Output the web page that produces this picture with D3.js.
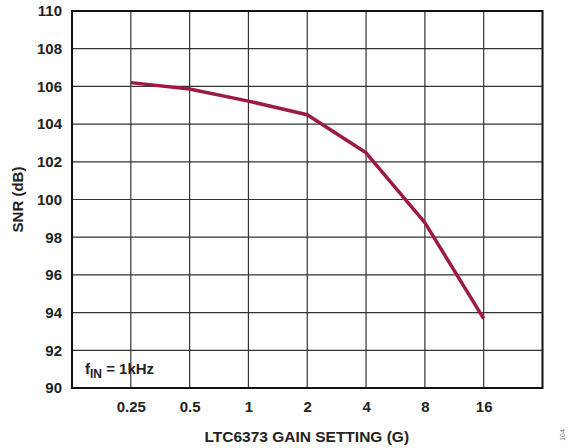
<!DOCTYPE html>
<html><head><meta charset="utf-8">
<script src="https://cdn.jsdelivr.net/npm/d3@7"></script>
<style>body{margin:0;background:#fff}svg{display:block}text{font-family:Arial,"Liberation Sans",sans-serif}</style>
</head><body><svg id="c" width="568" height="448"></svg>
<script>
const categories = ["0.25","0.5","1","2","4","8","16"];
const snrValues = [106.2, 105.86, 105.22, 104.5, 102.48, 98.77, 93.68];
const yTicks = [90,92,94,96,98,100,102,104,106,108,110];

const svg = d3.select("#c");
const L=72, R=542.5, T=11, B=388;
const x = d3.scalePoint().domain(categories).range([L,R]).padding(1);
const y = d3.scaleLinear().domain([90,110]).range([B,T]);

svg.append("g").selectAll("line").data(yTicks).join("line")
  .attr("x1",L).attr("x2",R).attr("y1",d=>y(d)).attr("y2",d=>y(d))
  .attr("stroke","#333").attr("stroke-width",1.2);
svg.append("g").selectAll("line").data(categories).join("line")
  .attr("x1",d=>x(d)).attr("x2",d=>x(d)).attr("y1",T).attr("y2",B)
  .attr("stroke","#333").attr("stroke-width",1.2);
svg.append("rect").attr("x",L).attr("y",T).attr("width",R-L).attr("height",B-T)
  .attr("fill","none").attr("stroke","#111").attr("stroke-width",2);

const yAxis = d3.axisLeft(y).tickValues(yTicks).tickSize(0).tickPadding(10);
const gy = svg.append("g").attr("transform",`translate(${L},0)`).call(yAxis);
gy.select(".domain").remove();
gy.selectAll("text").attr("font-size",15).attr("font-weight","bold").attr("fill","#222").attr("font-family","Arial, 'Liberation Sans', sans-serif");

const xAxis = d3.axisBottom(x).tickSize(0).tickPadding(13);
const gx = svg.append("g").attr("transform",`translate(0,${B})`).call(xAxis);
gx.select(".domain").remove();
gx.selectAll("text").attr("font-size",15).attr("font-weight","bold").attr("fill","#222").attr("font-family","Arial, 'Liberation Sans', sans-serif");

const line = d3.line().x((d,i)=>x(categories[i])).y(d=>y(d));
svg.append("path").datum(snrValues).attr("d",line)
  .attr("fill","none").attr("stroke","#9c1a45").attr("stroke-width",3.5)
  .attr("stroke-linejoin","round");

svg.append("text").attr("x",(L+R)/2 - 0.5).attr("y",442).attr("text-anchor","middle")
  .attr("font-size",15.5).attr("font-weight","bold").attr("fill","#222")
  .text("LTC6373 GAIN SETTING (G)");
svg.append("text").attr("transform",`translate(23,${(T+B)/2}) rotate(-90)`).attr("text-anchor","middle")
  .attr("font-size",15).attr("font-weight","bold").attr("fill","#222")
  .text("SNR (dB)");

const ann = svg.append("text").attr("x",85).attr("y",374).attr("font-size",15).attr("font-weight","bold").attr("fill","#222");
ann.append("tspan").text("f");
ann.append("tspan").attr("dy",4).attr("font-size",12).text("IN");
ann.append("tspan").attr("dy",-4).text(" = 1kHz");

svg.append("text").attr("transform","translate(565,435) rotate(-90)").attr("text-anchor","middle")
  .attr("font-size",7).attr("fill","#777").text("104");
</script></body></html>
